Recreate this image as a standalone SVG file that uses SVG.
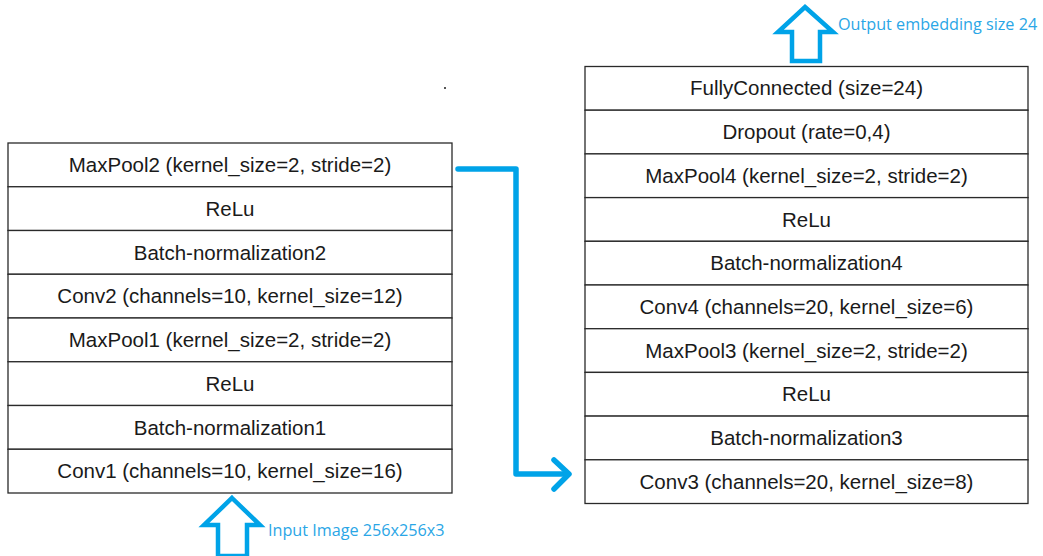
<svg xmlns="http://www.w3.org/2000/svg" width="1043" height="556" viewBox="0 0 1043 556">
<style>
.cell{fill:#fff;stroke:#2a2a2a;stroke-width:1.3}
.t{font-family:"Liberation Sans",Arial,sans-serif;font-size:20.5px;fill:#1a1a1a;text-anchor:middle}
.lbl{font-family:"Open Sans","Noto Sans",sans-serif;font-size:16.2px;fill:#2aa6e6}
.blk{fill:#fff;stroke:#00a3e8;stroke-width:4.5;stroke-linejoin:miter}
.conn{fill:none;stroke:#00a3e8;stroke-width:5.5;stroke-linecap:round;stroke-linejoin:round}
</style>
<rect width="1043" height="556" fill="#fff"/>
<g id="left-stack">
<g id="maxpool2"><rect class="cell" x="8" y="143" width="444" height="43.75"/><text class="t" x="230" y="172">MaxPool2 (kernel_size=2, stride=2)</text></g>
<g id="relu2"><rect class="cell" x="8" y="186.75" width="444" height="43.75"/><text class="t" x="230" y="216">ReLu</text></g>
<g id="bn2"><rect class="cell" x="8" y="230.5" width="444" height="43.75"/><text class="t" x="230" y="259.5">Batch-normalization2</text></g>
<g id="conv2"><rect class="cell" x="8" y="274.25" width="444" height="43.75"/><text class="t" x="230" y="303.3">Conv2 (channels=10, kernel_size=12)</text></g>
<g id="maxpool1"><rect class="cell" x="8" y="318" width="444" height="43.75"/><text class="t" x="230" y="347">MaxPool1 (kernel_size=2, stride=2)</text></g>
<g id="relu1"><rect class="cell" x="8" y="361.75" width="444" height="43.75"/><text class="t" x="230" y="390.8">ReLu</text></g>
<g id="bn1"><rect class="cell" x="8" y="405.5" width="444" height="43.75"/><text class="t" x="230" y="434.5">Batch-normalization1</text></g>
<g id="conv1"><rect class="cell" x="8" y="449.25" width="444" height="43.75"/><text class="t" x="230" y="478.3">Conv1 (channels=10, kernel_size=16)</text></g>
</g>
<g id="right-stack">
<g id="fc"><rect class="cell" x="585" y="66.5" width="443" height="43.7"/><text class="t" x="806.5" y="95.4">FullyConnected (size=24)</text></g>
<g id="dropout"><rect class="cell" x="585" y="110.2" width="443" height="43.7"/><text class="t" x="806.5" y="139.1">Dropout (rate=0,4)</text></g>
<g id="maxpool4"><rect class="cell" x="585" y="153.9" width="443" height="43.7"/><text class="t" x="806.5" y="182.8">MaxPool4 (kernel_size=2, stride=2)</text></g>
<g id="relu4"><rect class="cell" x="585" y="197.6" width="443" height="43.7"/><text class="t" x="806.5" y="226.5">ReLu</text></g>
<g id="bn4"><rect class="cell" x="585" y="241.3" width="443" height="43.7"/><text class="t" x="806.5" y="270.2">Batch-normalization4</text></g>
<g id="conv4"><rect class="cell" x="585" y="285" width="443" height="43.7"/><text class="t" x="806.5" y="313.9">Conv4 (channels=20, kernel_size=6)</text></g>
<g id="maxpool3"><rect class="cell" x="585" y="328.7" width="443" height="43.7"/><text class="t" x="806.5" y="357.6">MaxPool3 (kernel_size=2, stride=2)</text></g>
<g id="relu3"><rect class="cell" x="585" y="372.4" width="443" height="43.7"/><text class="t" x="806.5" y="401.3">ReLu</text></g>
<g id="bn3"><rect class="cell" x="585" y="416.1" width="443" height="43.7"/><text class="t" x="806.5" y="445">Batch-normalization3</text></g>
<g id="conv3"><rect class="cell" x="585" y="459.8" width="443" height="43.7"/><text class="t" x="806.5" y="488.7">Conv3 (channels=20, kernel_size=8)</text></g>
</g>
<g id="output-arrow">
<polygon class="blk" points="805,7 833,32 820,32 820,61 792,61 792,32 778,32"/>
<text class="lbl" x="838" y="30">Output embedding size 24</text>
</g>
<g id="input-arrow">
<polygon class="blk" points="232,498 260,525 247,525 247,556 218,556 218,525 204,525"/>
<text class="lbl" x="268" y="536">Input Image 256x256x3</text>
</g>
<g id="connectors">
<polyline class="conn" points="458,169 516,169 516,474 568,474"/>
<polyline class="conn" points="554,460 569,474 554,489"/>
</g>
<rect x="444" y="87" width="2" height="2" fill="#555"/>
</svg>
